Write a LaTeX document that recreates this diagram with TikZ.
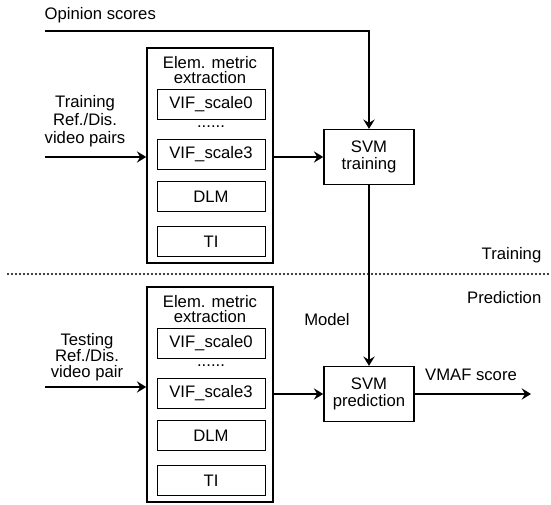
\documentclass[tikz,border=0pt]{standalone}
\usepackage{fontspec}
\setmainfont{Liberation Sans}
\usetikzlibrary{arrows.meta, positioning}

\begin{document}
\begin{tikzpicture}[x=0.75pt, y=-0.75pt]
	\tikzstyle{outer} = [rectangle, draw=black, line width=1.2pt, minimum width=94.5pt, minimum height=161.25pt]
	\tikzstyle{inner} = [rectangle, draw=black, line width=0.6pt, minimum width=81pt, minimum height=22.5pt, text centered, font=\fontsize{12.5}{13}\selectfont]
	\tikzstyle{svm} = [rectangle, draw=black, line width=1.2pt, minimum width=67.5pt, minimum height=41pt, align=center, font=\fontsize{12.5}{13}\selectfont]
	\tikzstyle{lbl} = [align=center, font=\fontsize{12.5}{13.5}\selectfont]
	\tikzstyle{arrow} = [line width=1.4pt, -{Stealth[length=7pt, width=8.5pt, inset=2.5pt]}]
	\tikzstyle{sep} = [line width=1.6pt, dash pattern=on 0pt off 3pt, line cap=round]

	\useasboundingbox (0,0) rectangle (551,505);

	% the two metric extraction stacks
	\foreach \s/\dy in {tr/0, te/239} {
		\node[outer] (elem\s) at (210,155.5+\dy) {};
		\node[lbl, font=\fontsize{12.5}{11.5}\selectfont] (title\s) at (210,70+\dy) {Elem. metric\\extraction};
		\node[inner] (vifa\s) at (211,104+\dy) {VIF\_scale0};
		\node[lbl] (dots\s) at (211,127+\dy) {......};
		\node[inner] (vifb\s) at (211,154+\dy) {VIF\_scale3};
		\node[inner] (dlm\s) at (211,196.5+\dy) {DLM};
		\node[inner] (ti\s) at (211,241.5+\dy) {TI};
	}

	\node[svm] (svmtr) at (369,157) {SVM\\training};
	\node[svm] (svmte) at (369,394) {SVM\\prediction};

	\node[lbl, anchor=west] (opinion) at (40,15) {Opinion scores};
	\node[lbl] (trainin) at (85,121) {Training\\Ref./Dis.\\video pairs};
	\node[lbl, font=\fontsize{12.5}{12}\selectfont] (testin) at (87,357) {Testing\\Ref./Dis.\\video pair};
	\node[lbl] (model) at (327,320) {Model};
	\node[lbl] (vmaf) at (471,375) {VMAF score};
	\node[lbl, anchor=east] (phasetr) at (546,255) {Training};
	\node[lbl, anchor=east] (phasete) at (546,298) {Prediction};

	\coordinate (ops) at (45,31);
	\coordinate (intr) at (45,157);
	\coordinate (inte) at (45,387);
	\coordinate (out) at (531,394);
	\coordinate (sepl) at (8,274);
	\coordinate (sepr) at (551,274);

	\draw[arrow] (ops) -| (svmtr.north);
	\draw[arrow] (intr) -- (intr -| elemtr.west);
	\draw[arrow] (elemtr.east |- svmtr) -- (svmtr.west);
	\draw[arrow] (svmtr.south) -- (svmte.north);
	\draw[arrow] (inte) -- (inte -| elemte.west);
	\draw[arrow] (elemte.east |- svmte) -- (svmte.west);
	\draw[arrow] (svmte.east) -- (out);

	\draw[sep] (sepl) -- (sepr);

\end{tikzpicture}
\end{document}
